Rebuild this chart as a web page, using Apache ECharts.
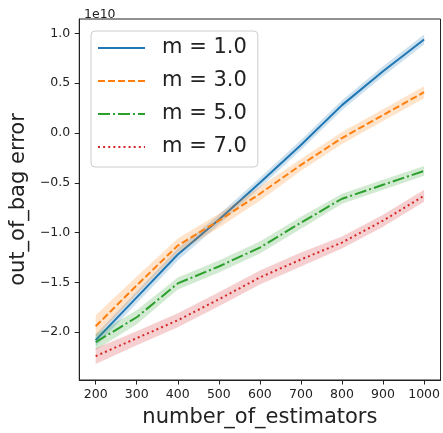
<!DOCTYPE html>
<html>
<head>
<meta charset="utf-8">
<script src="https://cdn.jsdelivr.net/npm/echarts@6/dist/echarts.min.js"></script>
<style>
html,body{margin:0;padding:0;background:#fff;}
#c{width:443px;height:433px;}
</style>
</head>
<body>
<div id="c"></div>
<script>
// ---- data (values in raw units; axis shows them scaled by 1e10) ----
const estimators = [200, 300, 400, 500, 600, 700, 800, 900, 1000];
const seriesNames = ['m = 1.0', 'm = 3.0', 'm = 5.0', 'm = 7.0'];
const m1Mean = [-2.08e10, -1.65e10, -1.22e10, -0.87e10, -0.50e10, -0.12e10, 0.28e10, 0.62e10, 0.94e10];
const m1Low  = [-2.14e10, -1.71e10, -1.28e10, -0.92e10, -0.55e10, -0.17e10, 0.23e10, 0.57e10, 0.89e10];
const m1High = [-2.02e10, -1.59e10, -1.16e10, -0.82e10, -0.45e10, -0.07e10, 0.33e10, 0.67e10, 0.99e10];
const m3Mean = [-1.94e10, -1.53e10, -1.13e10, -0.88e10, -0.61e10, -0.32e10, -0.05e10, 0.18e10, 0.41e10];
const m3Low  = [-2.05e10, -1.62e10, -1.20e10, -0.95e10, -0.68e10, -0.38e10, -0.11e10, 0.12e10, 0.35e10];
const m3High = [-1.83e10, -1.44e10, -1.06e10, -0.81e10, -0.54e10, -0.26e10, 0.01e10, 0.24e10, 0.47e10];
const m5Mean = [-2.10e10, -1.85e10, -1.51e10, -1.34e10, -1.15e10, -0.90e10, -0.66e10, -0.52e10, -0.38e10];
const m5Low  = [-2.18e10, -1.92e10, -1.57e10, -1.40e10, -1.21e10, -0.96e10, -0.71e10, -0.57e10, -0.43e10];
const m5High = [-2.02e10, -1.78e10, -1.45e10, -1.28e10, -1.09e10, -0.84e10, -0.61e10, -0.47e10, -0.33e10];
const m7Mean = [-2.24e10, -2.06e10, -1.88e10, -1.67e10, -1.45e10, -1.27e10, -1.10e10, -0.88e10, -0.63e10];
const m7Low  = [-2.32e10, -2.13e10, -1.95e10, -1.74e10, -1.52e10, -1.34e10, -1.16e10, -0.94e10, -0.69e10];
const m7High = [-2.16e10, -1.99e10, -1.81e10, -1.60e10, -1.38e10, -1.20e10, -1.04e10, -0.82e10, -0.57e10];
const xTicks = [200, 300, 400, 500, 600, 700, 800, 900, 1000];
const yTicks = [-2.0e10, -1.5e10, -1.0e10, -0.5e10, 0, 0.5e10, 1.0e10];
const yScaleLabel = '1e10';
const xAxisTitle = 'number_of_estimators';
const yAxisTitle = 'out_of_bag error';

// ---- styling ----
const colors = ['#1f77b4', '#ff7f0e', '#2ca02c', '#d62728'];
const dashes = ['solid', [7, 3], [12, 3, 2, 3], [2, 3.1]];
const means = [m1Mean, m3Mean, m5Mean, m7Mean];
const lows = [m1Low, m3Low, m5Low, m7Low];
const highs = [m1High, m3High, m5High, m7High];
const FONT = 'DejaVu Sans';

const series = [];
for (let i = 0; i < 4; i++) {
  series.push({
    name: seriesNames[i], type: 'line', symbol: 'none', z: 3 + i * 2,
    data: estimators.map((x, k) => [x, means[i][k]]),
    lineStyle: { color: colors[i], width: 2, type: dashes[i], cap: 'butt' },
    itemStyle: { color: colors[i] },
    animation: false
  });
  const lo = lows[i], hi = highs[i], col = colors[i];
  series.push({
    name: 'band' + i, type: 'custom', silent: true, z: 2 + i * 2,
    data: estimators.map((x, k) => [x, lo[k], hi[k]]),
    encode: { x: 0, y: [1, 2] },
    renderItem: function (params, api) {
      if (params.dataIndex !== 0) return null;
      const pts = [];
      for (let k = 0; k < estimators.length; k++) pts.push(api.coord([estimators[k], hi[k]]));
      for (let k = estimators.length - 1; k >= 0; k--) pts.push(api.coord([estimators[k], lo[k]]));
      return {
        type: 'polygon',
        shape: { points: pts },
        style: { fill: col, opacity: 0.22 }
      };
    },
    animation: false
  });
}

const fmtY = v => (v / 1e10).toFixed(1).replace('-', '\u2212');

const chart = echarts.init(document.getElementById('c'), null, { renderer: 'canvas' });
chart.setOption({
  animation: false,
  backgroundColor: '#ffffff',
  textStyle: { fontFamily: FONT },
  title: {
    text: yScaleLabel, left: 79, top: 3,
    textStyle: { fontFamily: FONT, fontSize: 12.5, fontWeight: 'normal', color: '#222' }
  },
  grid: {
    left: 79, top: 19, width: 365.5, height: 362.5,
    show: true, borderColor: '#222', borderWidth: 1, backgroundColor: 'transparent',
    containLabel: false
  },
  legend: {
    orient: 'vertical', left: 91, top: 31,
    data: seriesNames,
    itemStyle: { opacity: 0, borderWidth: 0 },
    itemWidth: 47, itemHeight: 14, itemGap: 11,
    padding: [6, 11, 9, 6],
    backgroundColor: 'rgba(255,255,255,0.8)',
    borderColor: '#cccccc', borderWidth: 1, borderRadius: 4,
    textStyle: { fontFamily: FONT, fontSize: 21, color: '#222', lineHeight: 22, padding: [0, 0, 0, 12] },
    selectedMode: false
  },
  xAxis: {
    type: 'value', min: 160, max: 1040,
    name: xAxisTitle, nameLocation: 'middle', nameGap: 27,
    nameTextStyle: { fontFamily: FONT, fontSize: 21, color: '#222' },
    axisLine: { show: true, onZero: false, lineStyle: { color: '#222', width: 1 } },
    axisTick: { show: true, length: 4.5, customValues: xTicks, lineStyle: { color: '#222' } },
    axisLabel: { customValues: xTicks, margin: 8, fontFamily: FONT, fontSize: 12.5, color: '#222', formatter: v => String(v) },
    splitLine: { show: false }
  },
  yAxis: {
    type: 'value', min: -2.48e10, max: 1.145e10,
    name: yAxisTitle, nameLocation: 'middle', nameGap: 37,
    nameTextStyle: { fontFamily: FONT, fontSize: 21, color: '#222' },
    axisLine: { show: true, onZero: false, lineStyle: { color: '#222', width: 1 } },
    axisTick: { show: true, length: 4.5, customValues: yTicks, lineStyle: { color: '#222' } },
    axisLabel: { customValues: yTicks, margin: 9, fontFamily: FONT, fontSize: 12.5, color: '#222', formatter: fmtY },
    splitLine: { show: false }
  },
  series: series
});
</script>
</body>
</html>
